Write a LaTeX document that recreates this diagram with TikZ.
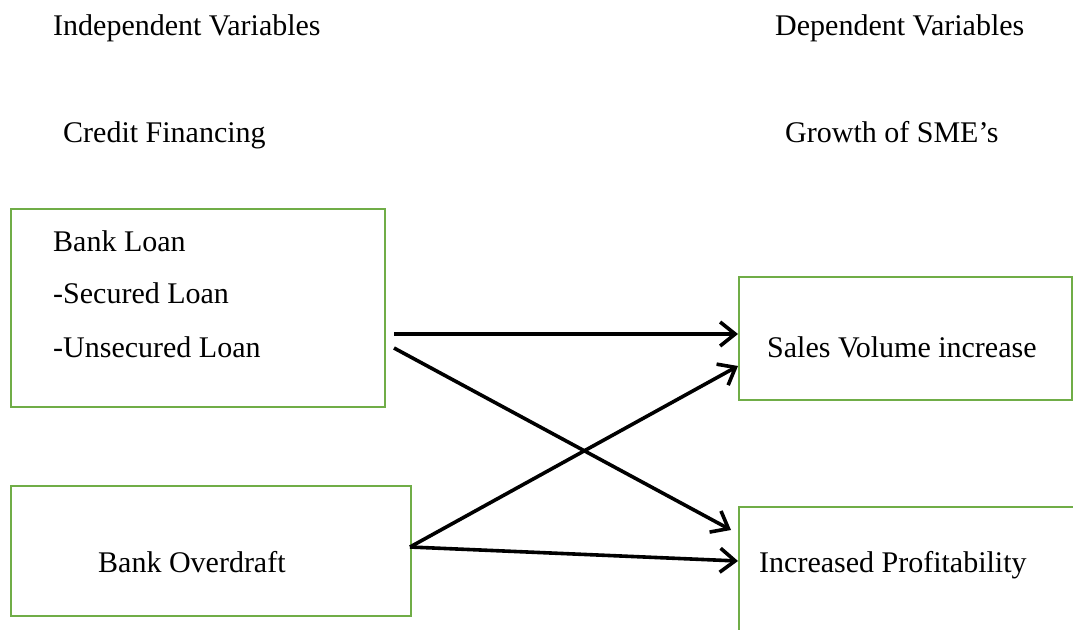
\documentclass[tikz,border=0pt]{standalone}
\usepackage{fontspec}
\setmainfont{Liberation Serif}
\usepackage{tikz}
\usetikzlibrary{positioning, arrows.meta}
\definecolor{boxgreen}{RGB}{112,173,71}

\begin{document}
\begin{tikzpicture}[x=1pt, y=-1pt,
    label_text/.style={anchor=base west, inner sep=0pt, font=\fontsize{30}{36}\selectfont},
    var_box/.style={rectangle, draw=boxgreen, line width=2.3pt, anchor=north west, inner sep=0pt},
    link/.style={line width=3.6pt, -{Straight Barb[length=15pt, width=24pt, line width=3.6pt]}}]

    \clip (0,0) rectangle (1073,629);

    % Headings
    \node[label_text] (indep) at (53,35) {Independent Variables};
    \node[label_text] (dep) at (775,35) {Dependent Variables};
    \node[label_text] (credit) at (63,142) {Credit Financing};
    \node[label_text] (growth) at (785,142) {Growth of SME’s};

    % Independent boxes
    \node[var_box, minimum width=374pt, minimum height=198pt] (loan) at (10,208) {};
    \node[label_text] (loan0) at (53,251) {Bank Loan};
    \node[label_text] (loan1) at (53,303) {-Secured Loan};
    \node[label_text] (loan2) at (53,357) {-Unsecured Loan};

    \node[var_box, minimum width=400pt, minimum height=130pt] (overdraft) at (10,485) {};
    \node[label_text] (overdraft0) at (98,572) {Bank Overdraft};

    % Dependent boxes
    \node[var_box, minimum width=333pt, minimum height=123pt] (sales) at (738,276) {};
    \node[label_text] (sales0) at (767,357) {Sales Volume increase};

    \node[var_box, minimum width=345pt, minimum height=140pt] (profit) at (738,506) {};
    \node[label_text] (profit0) at (759,572) {Increased Profitability};

    % Arrow ends
    \coordinate (loan_out0) at (394,334);
    \coordinate (loan_out1) at (394,348);
    \coordinate (overdraft_out) at (410,547);
    \coordinate (sales_in0) at (738,334);
    \coordinate (sales_in1) at (738,366);
    \coordinate (profit_in0) at (731,530);
    \coordinate (profit_in1) at (738,561);

    % Arrows
    \draw[link] (loan_out0) -- (sales_in0);
    \draw[link] (loan_out1) -- (profit_in0);
    \draw[link] (overdraft_out) -- (sales_in1);
    \draw[link] (overdraft_out) -- (profit_in1);
\end{tikzpicture}
\end{document}
